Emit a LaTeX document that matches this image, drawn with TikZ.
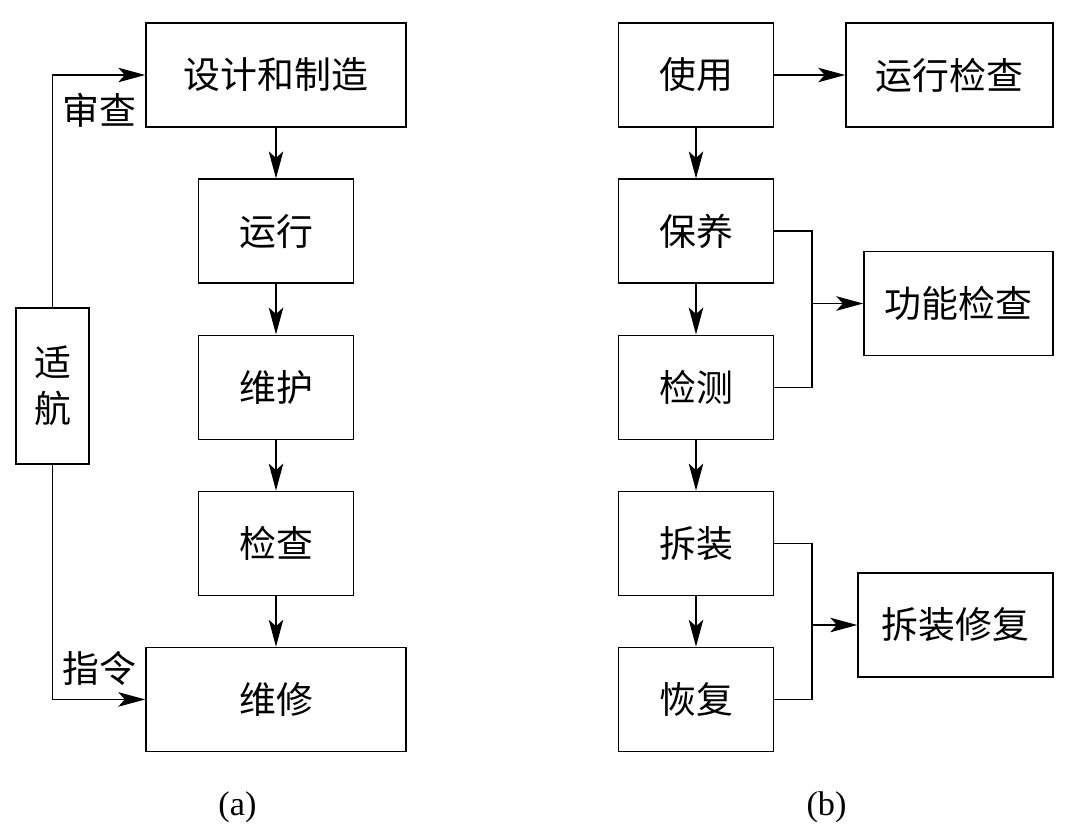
\documentclass[tikz,border=0pt]{standalone}
\usepackage{fontspec}
\setmainfont{Liberation Serif}
\newfontfamily\cjk{Noto Sans CJK SC}
\usetikzlibrary{arrows.meta,positioning}
\tikzset{
    %Define standard arrow tip
    >={Stealth[length=0.54cm,width=0.29cm,inset=0.13cm]},
    %Define style for boxes
    block/.style={
           rectangle,
           draw=black, line width=0.8pt,
           minimum width=3.1cm,
           minimum height=2.08cm,
           font=\cjk\fontsize{21}{26}\selectfont,
           text centered},
    % Define style for wide boxes
    wideblock/.style={
           block,
           minimum width=5.2cm},
    % Define arrow style
    arr/.style={
           ->,
           line width=0.8pt},
    % Define style for plain lines
    wire/.style={
           line width=0.8pt},
    % Define style for texts on arrows
    tag/.style={
           font=\cjk\fontsize{21}{26}\selectfont}
}

\begin{document}
\begin{tikzpicture}[node distance=1.014cm]
        \useasboundingbox (0,0) rectangle (21.6,-16.68);
        %nodes

        % design and manufacture node
        \node[wideblock]
        (design)
        at (5.52,-1.5)
        {设计和制造}
        ;

        % operation node
        \node[block, below=of design]
        (run)
        {运行}
        ;

        % maintenance node
        \node[block, below=of run]
        (maint)
        {维护}
        ;

        % inspection node
        \node[block, below=of maint]
        (check)
        {检查}
        ;

        % repair node
        \node[wideblock, below=of check]
        (repair)
        {维修}
        ;

        % airworthiness node
        \node[block, align=center,
        minimum width=1.46cm, minimum height=3.12cm]
        (airworthy)
        at (1.05,-7.72)
        {适\\航}
        ;

        % usage node
        \node[block]
        (use)
        at (13.92,-1.5)
        {使用}
        ;

        % operational check node
        \node[block, right=1.42cm of use, minimum width=4.14cm]
        (runcheck)
        {运行检查}
        ;

        % servicing node
        \node[block, below=of use]
        (service)
        {保养}
        ;

        % testing node
        \node[block, below=of service]
        (detect)
        {检测}
        ;

        % disassembly node
        \node[block, below=of detect]
        (disasm)
        {拆装}
        ;

        % restoration node
        \node[block, below=of disasm]
        (restore)
        {恢复}
        ;

        % functional check node
        \node[block, minimum width=3.78cm]
        (funccheck)
        at (19.17,-6.07)
        {功能检查}
        ;

        % disassembly repair node
        \node[block, minimum width=3.9cm]
        (fixbox)
        at (19.11,-12.5)
        {拆装修复}
        ;

        % forks of the brackets
        \coordinate (fork1) at (16.24,-6.07);
        \coordinate (fork2) at (16.24,-12.5);

        % captions
        \node[font=\fontsize{19.5}{23}\selectfont]
        (capa)
        at (4.75,-16.14)
        {(a)}
        ;
        \node[font=\fontsize{19.5}{23}\selectfont]
        (capb)
        at (16.53,-16.14)
        {(b)}
        ;

        % chain (a)
        \draw[arr] (design) -- (run);
        \draw[arr] (run) -- (maint);
        \draw[arr] (maint) -- (check);
        \draw[arr] (check) -- (repair);

        % airworthiness and design
        \draw[arr]
        (airworthy) |- node[tag, pos=0.755, below, yshift=-0.24cm]
            {审查}
        (design)
        ;

        % airworthiness and repair
        \draw[arr]
        (airworthy) |- node[tag, pos=0.755, above, yshift=0.15cm]
            {指令}
        (repair)
        ;

        % chain (b)
        \draw[arr] (use) -- (runcheck);
        \draw[arr] (use) -- (service);
        \draw[arr] (service) -- (detect);
        \draw[arr] (detect) -- (disasm);
        \draw[arr] (disasm) -- (restore);

        % servicing and testing to functional check
        \draw[wire] (service) -| (fork1) |- (detect);
        \draw[arr] (fork1) -- (funccheck);

        % disassembly and restoration to disassembly repair
        \draw[wire] (disasm) -| (fork2) |- (restore);
        \draw[arr] (fork2) -- (fixbox);

    \end{tikzpicture}
\end{document}
